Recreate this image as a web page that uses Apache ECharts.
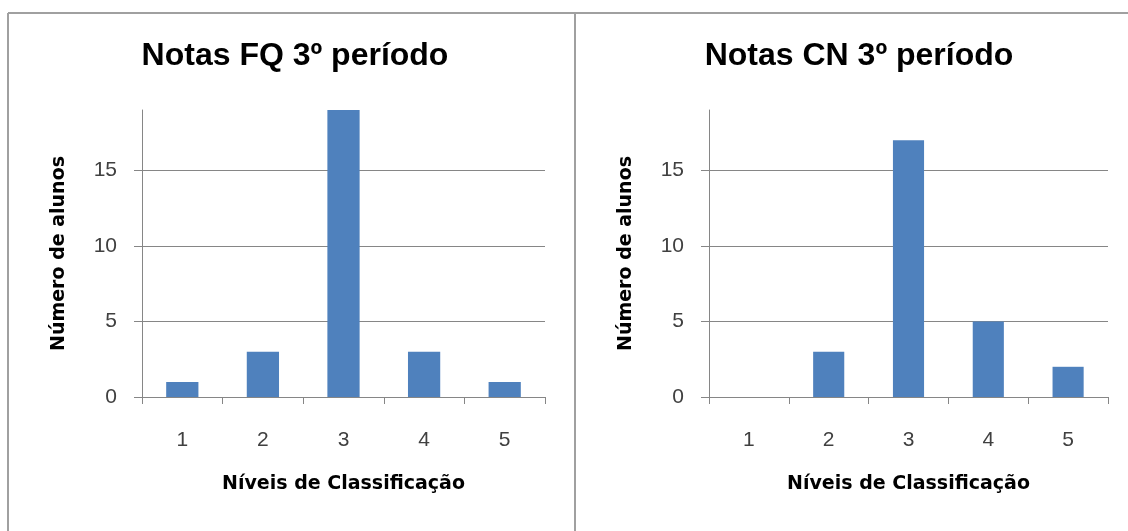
<!DOCTYPE html>
<html>
<head>
<meta charset="utf-8">
<script src="https://cdn.jsdelivr.net/npm/echarts@6/dist/echarts.min.js"></script>
<style>
  html, body { margin: 0; padding: 0; background: #ffffff; }
  #chart { width: 1128px; height: 531px; }
</style>
</head>
<body>
<div id="chart"></div>
<script>
// ---- data ----
const categories = ['1', '2', '3', '4', '5'];
const fqValues = [1, 3, 19, 3, 1];
const cnValues = [0, 3, 17, 5, 2];
const yTickValues = [0, 5, 10, 15];
const titles = ['Notas FQ 3º período', 'Notas CN 3º período'];
const xAxisName = 'Níveis de Classificação';
const yAxisName = 'Número de alunos';

const axisGrey = '#868686';
const labelColor = '#404040';
const barColor = '#4f81bd';

const chart = echarts.init(document.getElementById('chart'), null, { renderer: 'canvas' });

function xAxis(gridIndex) {
  return {
    type: 'category',
    gridIndex: gridIndex,
    data: categories,
    boundaryGap: true,
    name: xAxisName,
    nameLocation: 'middle',
    nameGap: 78,
    nameTextStyle: { fontFamily: 'DejaVu Sans', fontWeight: 'bold', fontSize: 19, color: '#000000' },
    axisLine: { show: true, lineStyle: { color: axisGrey, width: 1 } },
    axisTick: { show: true, length: 7, alignWithLabel: false, lineStyle: { color: axisGrey, width: 1 } },
    axisLabel: { margin: 33, fontFamily: 'Liberation Sans', fontSize: 21, color: labelColor },
    splitLine: { show: false }
  };
}

function yAxis(gridIndex) {
  return {
    type: 'value',
    gridIndex: gridIndex,
    min: 0,
    max: 19,
    interval: 5,
    name: yAxisName,
    nameLocation: 'middle',
    nameGap: 73,
    nameRotate: 90,
    nameTextStyle: { fontFamily: 'DejaVu Sans', fontWeight: 'bold', fontSize: 19, color: '#000000' },
    axisLine: { show: true, lineStyle: { color: axisGrey, width: 1 } },
    axisTick: { show: true, length: 8, customValues: yTickValues, lineStyle: { color: axisGrey, width: 1 } },
    axisLabel: { margin: 25, customValues: yTickValues, fontFamily: 'Liberation Sans', fontSize: 21, color: labelColor },
    splitLine: { show: true, lineStyle: { color: axisGrey, width: 1 } }
  };
}

const titleStyle = { fontFamily: 'Liberation Sans', fontWeight: 'bold', fontSize: 32, color: '#000000' };

const option = {
  animation: false,
  backgroundColor: '#ffffff',
  title: [
    { text: titles[0], left: 290, top: 35, textAlign: 'center', textStyle: titleStyle },
    { text: titles[1], left: 854, top: 35, textAlign: 'center', textStyle: titleStyle }
  ],
  grid: [
    { left: 142, top: 110, width: 403, height: 287, containLabel: false },
    { left: 709, top: 110, width: 399, height: 287, containLabel: false }
  ],
  xAxis: [xAxis(0), xAxis(1)],
  yAxis: [yAxis(0), yAxis(1)],
  series: [
    { type: 'bar', xAxisIndex: 0, yAxisIndex: 0, data: fqValues, barWidth: '40%', itemStyle: { color: barColor } },
    { type: 'bar', xAxisIndex: 1, yAxisIndex: 1, data: cnValues, barWidth: '39%', itemStyle: { color: barColor } }
  ],
  graphic: [
    { type: 'line', shape: { x1: 8, y1: 13, x2: 1128, y2: 13 }, style: { stroke: '#a0a0a0', lineWidth: 2 }, silent: true },
    { type: 'line', shape: { x1: 8, y1: 13, x2: 8, y2: 531 }, style: { stroke: '#a0a0a0', lineWidth: 2 }, silent: true },
    { type: 'line', shape: { x1: 575, y1: 13, x2: 575, y2: 531 }, style: { stroke: '#a0a0a0', lineWidth: 2 }, silent: true }
  ]
};

chart.setOption(option);
</script>
</body>
</html>
